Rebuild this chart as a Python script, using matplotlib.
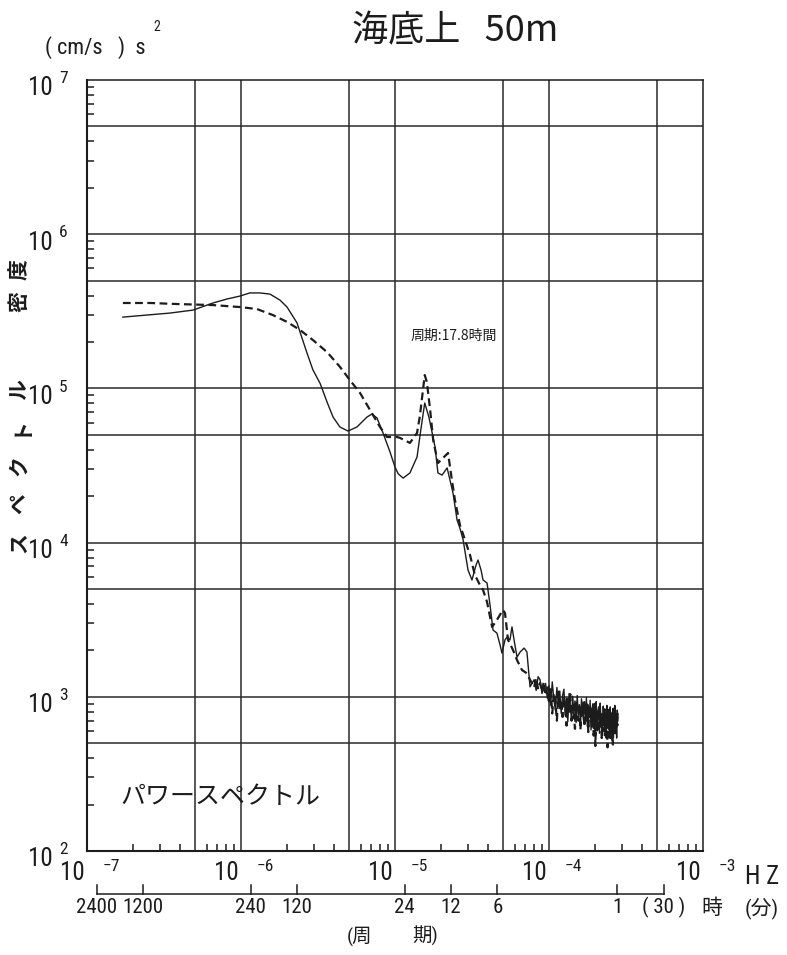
import matplotlib
matplotlib.use('Agg')
import matplotlib.pyplot as plt
from matplotlib import font_manager
from matplotlib.font_manager import FontProperties
from matplotlib.ticker import FixedLocator, NullFormatter
from matplotlib.transforms import blended_transform_factory

# 周波数 (Hz) / スペクトル密度 ((cm/s)^2 s) : 実線
solid_freq = [1.71e-7, 3.46e-7, 4.88e-7, 6.58e-7, 8.11e-7, 9.85e-7, 1.14e-6, 1.33e-6,
              1.54e-6, 1.79e-6, 1.99e-6, 2.31e-6, 2.68e-6, 2.93e-6, 3.26e-6, 3.62e-6,
              3.96e-6, 4.39e-6, 4.95e-6, 5.66e-6, 6.58e-6, 7.09e-6, 7.64e-6, 8.36e-6,
              9.28e-6, 1.00e-5, 1.05e-5, 1.13e-5, 1.25e-5, 1.39e-5, 1.48e-5, 1.56e-5,
              1.66e-5, 1.82e-5, 1.90e-5, 2.02e-5, 2.18e-5, 2.38e-5,
              2.53e-5, 2.64e-5, 2.77e-5, 2.98e-5, 3.16e-5, 3.36e-5,
              3.46e-5, 3.62e-5, 3.73e-5, 3.96e-5, 4.14e-5, 4.33e-5, 4.59e-5, 4.81e-5,
              4.95e-5, 5.18e-5, 5.34e-5, 5.58e-5, 5.75e-5, 5.93e-5, 6.20e-5, 6.49e-5,
              6.89e-5, 7.19e-5, 7.53e-5, 8.00e-5, 8.25e-5, 8.50e-5, 8.75e-5, 9.00e-5,
              9.29e-5, 9.50e-5, 9.75e-5,
              1.000e-4, 1.025e-4, 1.050e-4, 1.075e-4, 1.100e-4, 1.125e-4, 1.150e-4, 1.175e-4,
              1.200e-4, 1.225e-4, 1.250e-4, 1.275e-4, 1.300e-4, 1.325e-4, 1.350e-4, 1.375e-4,
              1.400e-4, 1.425e-4, 1.450e-4, 1.475e-4, 1.500e-4, 1.525e-4, 1.550e-4, 1.575e-4,
              1.600e-4, 1.625e-4, 1.650e-4, 1.675e-4, 1.700e-4, 1.725e-4, 1.750e-4, 1.775e-4,
              1.800e-4, 1.825e-4, 1.850e-4, 1.875e-4, 1.900e-4, 1.925e-4, 1.950e-4, 1.975e-4,
              2.000e-4, 2.025e-4, 2.050e-4, 2.075e-4, 2.100e-4, 2.125e-4, 2.150e-4, 2.175e-4,
              2.200e-4, 2.225e-4, 2.250e-4, 2.275e-4, 2.300e-4, 2.325e-4, 2.350e-4, 2.375e-4,
              2.400e-4, 2.425e-4, 2.450e-4, 2.475e-4, 2.500e-4, 2.525e-4, 2.550e-4, 2.575e-4,
              2.600e-4, 2.625e-4, 2.650e-4, 2.675e-4, 2.700e-4, 2.725e-4, 2.750e-4, 2.775e-4,
              2.800e-4]
solid_spec = [2.90e5, 3.08e5, 3.22e5, 3.58e5, 3.80e5, 3.97e5, 4.16e5, 4.16e5,
              4.09e5, 3.74e5, 3.37e5, 2.66e5, 1.70e5, 1.32e5, 1.08e5, 8.16e4,
              6.52e4, 5.62e4, 5.29e4, 5.62e4, 6.52e4, 6.82e4, 6.43e4, 5.14e4,
              3.87e4, 3.09e4, 2.79e4, 2.62e4, 2.83e4, 3.59e4, 5.62e4, 8.04e4,
              6.52e4, 4.17e4, 2.83e4, 2.74e4, 3.05e4, 2.10e4,
              1.40e4, 1.24e4, 1.04e4, 6.64e3, 5.72e3, 7.16e3,
              7.71e3, 6.64e3, 5.72e3, 5.47e3, 3.94e3, 2.71e3, 2.59e3, 2.17e3,
              1.92e3, 2.34e3, 2.44e3, 2.34e3, 2.84e3, 2.34e3, 1.81e3, 1.95e3,
              2.07e3, 1.95e3, 1.16e3, 1.29e3, 1.10e3, 1.35e3, 1.29e3, 1.05e3,
              1.14e3, 1.22e3, 0.98e3,
              1180, 880, 1250, 960, 820, 1150, 870, 1090,
              780, 1020, 1120, 760, 980, 690, 1050, 850,
              720, 1010, 790, 940, 680, 1020, 760, 890,
              650, 970, 810, 700, 930, 760, 990, 640,
              870, 730, 950, 610, 820, 900, 660, 880,
              720, 930, 600, 800, 860, 580, 910, 690,
              770, 560, 870, 650, 800, 700, 540, 880,
              720, 620, 830, 580, 860, 640, 760, 520,
              840, 680, 590, 880, 610, 750, 540, 820,
              700]

# 破線
dashed_freq = [1.71e-7, 2.57e-7, 4.02e-7, 6.58e-7, 9.85e-7, 1.27e-6, 1.61e-6, 1.99e-6,
               2.42e-6, 2.93e-6, 3.62e-6, 4.39e-6, 5.10e-6, 5.93e-6, 6.88e-6, 7.99e-6,
               8.87e-6, 1.03e-5, 1.08e-5, 1.25e-5, 1.39e-5, 1.45e-5, 1.52e-5, 1.56e-5,
               1.61e-5, 1.69e-5, 1.77e-5, 1.90e-5, 2.08e-5, 2.21e-5, 2.34e-5,
               2.45e-5, 2.64e-5, 2.85e-5, 3.07e-5, 3.30e-5, 3.56e-5, 3.73e-5, 3.96e-5,
               4.27e-5, 4.59e-5, 5.02e-5, 5.18e-5, 5.42e-5, 5.84e-5, 6.20e-5, 6.68e-5,
               7.19e-5, 7.53e-5, 8.00e-5, 8.25e-5, 8.50e-5, 8.75e-5, 9.00e-5, 9.25e-5,
               9.50e-5, 9.75e-5,
               1.000e-4, 1.025e-4, 1.050e-4, 1.075e-4, 1.100e-4, 1.125e-4, 1.150e-4, 1.175e-4,
               1.200e-4, 1.225e-4, 1.250e-4, 1.275e-4, 1.300e-4, 1.325e-4, 1.350e-4, 1.375e-4,
               1.400e-4, 1.425e-4, 1.450e-4, 1.475e-4, 1.500e-4, 1.525e-4, 1.550e-4, 1.575e-4,
               1.600e-4, 1.625e-4, 1.650e-4, 1.675e-4, 1.700e-4, 1.725e-4, 1.750e-4, 1.775e-4,
               1.800e-4, 1.825e-4, 1.850e-4, 1.875e-4, 1.900e-4, 1.925e-4, 1.950e-4, 1.975e-4,
               2.000e-4, 2.025e-4, 2.050e-4, 2.075e-4, 2.100e-4, 2.125e-4, 2.150e-4, 2.175e-4,
               2.200e-4, 2.225e-4, 2.250e-4, 2.275e-4, 2.300e-4, 2.325e-4, 2.350e-4, 2.375e-4,
               2.400e-4, 2.425e-4, 2.450e-4, 2.475e-4, 2.500e-4, 2.525e-4, 2.550e-4, 2.575e-4,
               2.600e-4, 2.625e-4, 2.650e-4, 2.675e-4, 2.700e-4, 2.725e-4, 2.750e-4, 2.775e-4,
               2.800e-4]
dashed_spec = [3.58e5, 3.58e5, 3.52e5, 3.47e5, 3.37e5, 3.27e5, 2.99e5, 2.70e5,
               2.39e5, 2.06e5, 1.72e5, 1.38e5, 1.13e5, 9.34e4, 7.24e4, 5.62e4,
               4.84e4, 4.84e4, 4.77e4, 4.43e4, 5.14e4, 6.60e4, 9.77e4, 1.22e5,
               1.10e5, 7.30e4, 4.62e4, 3.28e4, 3.59e4, 3.81e4, 2.55e4,
               1.89e4, 1.30e4, 1.04e4, 8.31e3, 6.17e3, 5.31e3, 4.93e3, 4.12e3,
               2.84e3, 3.15e3, 3.66e3, 3.49e3, 2.34e3, 2.01e3, 1.73e3, 1.49e3,
               1.42e3, 1.29e3, 1.15e3, 1.32e3, 1.12e3, 1.23e3, 1.08e3, 1.25e3,
               1.02e3, 1.15e3,
               900, 1120, 780, 1060, 930, 700, 1080, 820,
               960, 740, 1010, 880, 650, 970, 800, 1040,
               700, 880, 760, 620, 950, 820, 700, 900,
               610, 860, 760, 940, 640, 820, 700, 890,
               590, 830, 740, 860, 640, 780, 560, 900,
               480, 820, 660, 760, 590, 850, 640, 720,
               540, 800, 680, 600, 830, 560, 740, 660,
               470, 790, 620, 700, 540, 810, 640, 700,
               490, 760, 600, 850, 580, 700, 620, 780,
               650]

# 周期軸 (時間)
period_hours = [2400, 1200, 240, 120, 24, 12, 6, 1, 0.5]
period_labels = ['2400', '1200', '240', '120', '24', '12', '6', '1', '( 30 )']

x_decades = [-7, -6, -5, -4, -3]
y_decades = [2, 3, 4, 5, 6, 7]

ylabel_chars = ['ス', 'ペ', 'ク', 'ト', 'ル', '密', '度']
ylabel_pos = [543, 504, 466, 426, 390, 302, 270]


def narrow_family():
    # 幅の狭い書体を探す (無ければ Roboto)
    cands = [('Liberation Sans Narrow', 'normal', 'Narrow'),
             ('Roboto Condensed', 'normal', 'Condensed'),
             ('DejaVu Sans', 'condensed', 'Condensed'),
             ('Roboto', 'normal', 'Roboto')]
    for fam, st, key in cands:
        try:
            path = font_manager.findfont(FontProperties(family=fam, stretch=st),
                                         fallback_to_default=False)
        except ValueError:
            continue
        if key in path:
            return fam, st
    return 'DejaVu Sans', 'normal'


NFAM, NSTRETCH = narrow_family()
NARROW = dict(family=[NFAM, 'Noto Sans CJK JP'], stretch=NSTRETCH)
JP = ['Noto Sans CJK JP', 'DejaVu Sans']
INK = '#1c1c1c'

W, H = 787, 955
fig = plt.figure(figsize=(W / 100, H / 100), dpi=100)
L, R, T, B = 87, 703, 80, 851
ax = fig.add_axes([L / W, 1 - B / H, (R - L) / W, (B - T) / H])


def px_text(x, y, s, **kw):
    fig.text(x / W, 1 - y / H, s, **kw)


ax.plot(solid_freq, solid_spec, color=INK, lw=1.0)
ax.plot(dashed_freq, dashed_spec, color=INK, lw=1.6, dashes=(3.5, 2.0))

ax.set_xscale('log')
ax.set_yscale('log')
ax.set_xlim(1e-7, 1e-3)
ax.set_ylim(1e2, 1e7)

# 格子線は 1 と 5 の位置、他は内向きの小目盛
grid_x = [m * 10.0 ** d for d in x_decades[:-1] for m in (1, 5)][1:]
grid_y = [m * 10.0 ** d for d in y_decades[:-1] for m in (1, 5)][1:]
minor_x = [m * 10.0 ** d for d in x_decades[:-1] for m in (2, 3, 4, 6, 7, 8, 9)]
minor_y = [m * 10.0 ** d for d in y_decades[:-1] for m in (2, 3, 4, 6, 7, 8, 9)]
ax.xaxis.set_major_locator(FixedLocator(grid_x))
ax.yaxis.set_major_locator(FixedLocator(grid_y))
ax.xaxis.set_minor_locator(FixedLocator(minor_x))
ax.yaxis.set_minor_locator(FixedLocator(minor_y))
for axis in (ax.xaxis, ax.yaxis):
    axis.set_major_formatter(NullFormatter())
    axis.set_minor_formatter(NullFormatter())
ax.tick_params(which='major', length=0)
ax.tick_params(which='minor', direction='in', length=5, width=1.1, color=INK)
ax.grid(True, which='major', color='#2a2a2a', lw=1.1)
for side, sp in ax.spines.items():
    sp.set_color(INK)
    sp.set_linewidth(1.5 if side in ('left', 'bottom') else 1.1)

# 目盛ラベル 10^n
for d in x_decades:
    ax.annotate('10', xy=(10.0 ** d, 0), xycoords=('data', 'axes fraction'),
                xytext=(-1.5, -16), textcoords='offset points', ha='right', va='center',
                fontsize=18, color=INK, annotation_clip=False, **NARROW)
    ax.annotate(f'\u2212{abs(d)}', xy=(10.0 ** d, 0), xycoords=('data', 'axes fraction'),
                xytext=(11.5, -11), textcoords='offset points', ha='left', va='center',
                fontsize=12.5, color=INK, annotation_clip=False, **NARROW)
for d in y_decades:
    ax.annotate('10', xy=(0, 10.0 ** d), xycoords=('axes fraction', 'data'),
                xytext=(-24.5, -6), textcoords='offset points', ha='right', va='center',
                fontsize=18, color=INK, annotation_clip=False, **NARROW)
    ax.annotate(str(d), xy=(0, 10.0 ** d), xycoords=('axes fraction', 'data'),
                xytext=(-20, 1), textcoords='offset points', ha='left', va='center',
                fontsize=12.5, color=INK, annotation_clip=False, **NARROW)
px_text(745, 877, 'H Z', fontsize=18, color=INK, va='center', **NARROW)

# 周期の目盛軸
trans = blended_transform_factory(ax.transData, ax.transAxes)
period_freq = [1.0 / (h * 3600.0) for h in period_hours]
y_line = -(894 - B) / (B - T)
y_tick = y_line + 9 / (B - T)
ax.plot([period_freq[0], period_freq[-1]], [y_line, y_line], transform=trans,
        clip_on=False, color=INK, lw=1.1)
for f, lab in zip(period_freq, period_labels):
    ax.plot([f, f], [y_line, y_tick], transform=trans, clip_on=False, color=INK, lw=1.1)
    ax.annotate(lab, xy=(f, 0), xycoords=('data', 'axes fraction'),
                xytext=(0, -40.5), textcoords='offset points', ha='center', va='center',
                fontsize=15, color=INK, annotation_clip=False, **NARROW)
px_text(712, 908, '時', fontsize=15, family=JP, color=INK, ha='center', va='center')
px_text(762, 908, '(分)', fontsize=15, color=INK, ha='center', va='center', **NARROW)
px_text(347, 936, '(周', fontsize=14, color=INK, ha='left', va='center', **NARROW)
px_text(412, 936, '期)', fontsize=14, color=INK, ha='left', va='center', **NARROW)

# 単位と縦軸名
px_text(45, 48, '( cm/s   )  s', fontsize=16, color=INK, ha='left', va='center', **NARROW)
px_text(157, 27, '2', fontsize=10, color=INK, ha='center', va='center', **NARROW)
for ch, yy in zip(ylabel_chars, ylabel_pos):
    px_text(19, yy, ch, fontsize=15, family=JP, weight='bold', color=INK, rotation=90,
            ha='center', va='center')

# 表題と注記
px_text(352, 31, '海底上   50m', fontsize=26, family=JP, color=INK,
        ha='left', va='center')
ax.annotate('周期:17.8時間', xy=(454 / W, 1 - 336 / H), xycoords='figure fraction',
            ha='center', va='center', fontsize=10, family=JP, color=INK)
ax.annotate('パワースペクトル', xy=(220 / W, 1 - 797 / H), xycoords='figure fraction',
            ha='center', va='center', fontsize=18, family=JP, color=INK)

fig.savefig('out.png', dpi=100)
